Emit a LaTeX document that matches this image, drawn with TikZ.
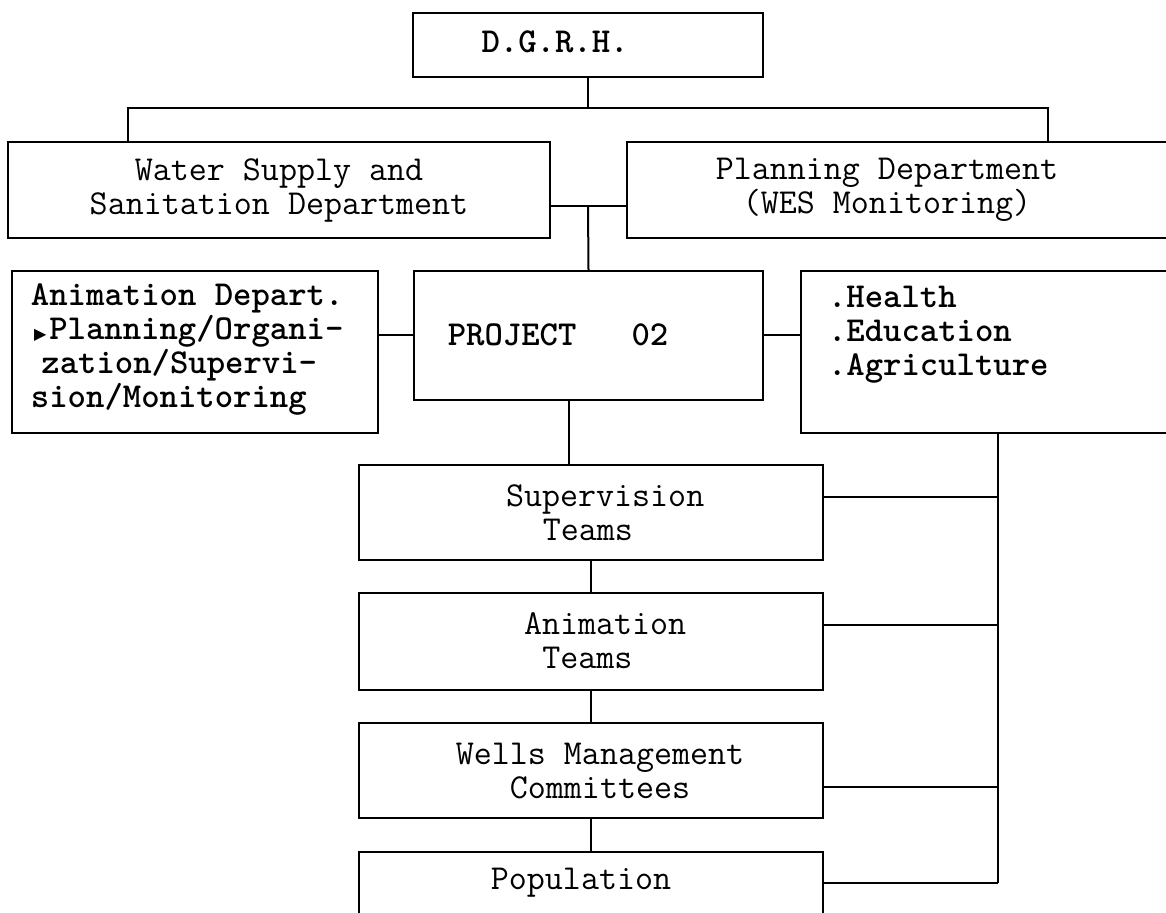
\documentclass[tikz,border=0pt]{standalone}
\usepackage{fontspec}
\newfontfamily\symfont{DejaVu Sans}

% typewriter look of the scanned chart
\newcommand\typewr{\ttfamily\fontsize{17.5}{17}\selectfont}
\newcommand\arrowmark{\makebox[0.525em][c]{\symfont\fontsize{8}{8}\selectfont ▶}}

\begin{document}
\begin{tikzpicture}[x=0.5pt,y=-0.5pt,line width=1pt,
  box/.style={draw,rectangle,inner sep=0pt},
  txt/.style={font=\typewr,align=center,inner sep=0pt},
  btxt/.style={txt,font=\typewr\bfseries}]
\useasboundingbox (0,0) rectangle (1166,913);
\fill[white] (0,0) rectangle (1166,913);
\clip (0,0) rectangle (1166,913);

% boxes
\node[box,minimum width=175pt,minimum height=32pt] (dgrh) at (588,45) {};
\node[box,minimum width=271pt,minimum height=48pt] (wss) at (279,190) {};
\node[box,minimum width=276.5pt,minimum height=48pt] (plan) at (903.5,190) {};
\node[box,minimum width=183pt,minimum height=81pt] (anim) at (195,352) {};
\node[box,minimum width=174.5pt,minimum height=64.5pt] (proj) at (588.5,335.5) {};
\node[box,minimum width=189.5pt,minimum height=81pt] (hlth) at (990.5,352) {};
\node[box,minimum width=232pt,minimum height=47.5pt] (sup) at (591,512.5) {};
\node[box,minimum width=232pt,minimum height=48.5pt] (ateam) at (591,641.5) {};
\node[box,minimum width=232pt,minimum height=47.5pt] (wells) at (591,770.5) {};
\node[box,minimum width=232pt,minimum height=33pt] (pop) at (591,885) {};

% texts
\node[btxt] (dgrhT) at (555,42) {D.G.R.H.};
\node[txt] (wssT) at (279,190) {Water Supply and\\Sanitation Department};
\node[txt] (planT) at (887,190) {Planning Department\\(WES Monitoring)};
\node[btxt,align=left,anchor=west] (animT) at (30,350)
  {Animation Depart.\\\arrowmark Planning/Organi-\\\hspace*{0.3em}zation/Supervi-\\sion/Monitoring};
\node[btxt] (projT) at (558,335) {PROJECT\ \ \ 02};
\node[btxt,align=left,anchor=west] (hlthT) at (827,335) {.Health\\.Education\\.Agriculture};
\node[txt,align=left,anchor=west] (supT) at (505,513) {Supervision\\\hspace*{1.05em}Teams};
\node[txt,align=left,anchor=west] (ateamT) at (523,641) {Animation\\\hspace*{0.525em}Teams};
\node[txt] (wellsT) at (600,771) {Wells Management\\Committees};
\node[txt] (popT) at (581,883) {Population};

% tree lines
\coordinate (topj) at (588,108);
\coordinate (midj) at (588,206);
\draw (dgrh.south) -- (topj);
\draw (wss.north -| 128,0) |- (topj) -| (plan.north -| 1048,0);
\draw (midj -| wss.east) -- (midj -| plan.west);
\draw (midj) -- (proj.north);
\draw (proj.west) -- (proj.west -| anim.east);
\draw (proj.east) -- (proj.east -| hlth.west);
\draw (proj.south -| 569,0) -- (sup.north -| 569,0);
\draw (sup.south) -- (ateam.north);
\draw (ateam.south) -- (wells.north);
\draw (wells.south) -- (pop.north);

% line on the right
\coordinate (bus) at (998,883);
\draw (hlth.south -| bus) -- (bus);
\foreach \n/\y in {sup/497,ateam/625,wells/787,pop/883}
  \draw (\n.east |- 0,\y) -- (bus |- 0,\y);
\end{tikzpicture}
\end{document}
